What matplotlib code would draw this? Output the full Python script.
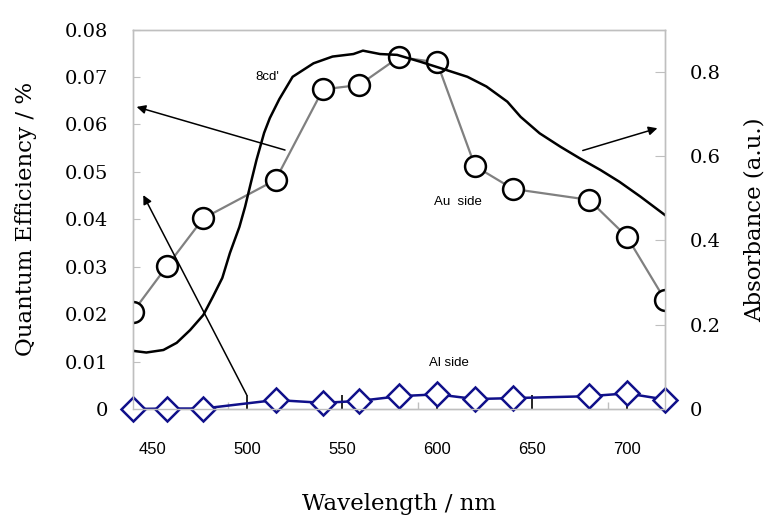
import numpy as np
import matplotlib
matplotlib.use("Agg")
import matplotlib.pyplot as plt

# Quantum efficiency, Au side (open circles, grey line)
wl_qe = [440, 458, 477, 515, 540, 559, 580, 600, 620, 640, 680, 700, 720]
qe_au = [0.0205, 0.0302, 0.0402, 0.0483, 0.0674, 0.0683, 0.0742, 0.0731,
         0.0512, 0.0464, 0.0441, 0.0363, 0.0230]
# Quantum efficiency, Al side (diamonds)
qe_al = [0.0, 0.0001, 0.0001, 0.0019, 0.0013, 0.0017, 0.0027, 0.0031,
         0.0021, 0.0023, 0.0027, 0.0033, 0.0020]

# Absorbance spectrum (right axis)
wl_abs = [440, 447, 456, 463, 470, 477, 482, 487, 491, 496, 499, 502, 505,
          509, 512, 517, 524, 535, 545, 556, 561, 570, 579, 591, 605, 616,
          626, 637, 644, 654, 665, 675, 686, 696, 707, 720]
absorb = [0.138, 0.134, 0.140, 0.157, 0.187, 0.223, 0.266, 0.311, 0.370,
          0.432, 0.480, 0.536, 0.591, 0.655, 0.690, 0.735, 0.788, 0.820,
          0.836, 0.842, 0.850, 0.842, 0.840, 0.824, 0.804, 0.788, 0.765,
          0.729, 0.693, 0.654, 0.622, 0.595, 0.567, 0.539, 0.504, 0.460]

x_ticks = [450, 500, 550, 600, 650, 700]
x_minor = [490, 590, 690]
qe_ticks = [0, 0.01, 0.02, 0.03, 0.04, 0.05, 0.06, 0.07, 0.08]
qe_labels = ["0", "0.01", "0.02", "0.03", "0.04", "0.05", "0.06", "0.07", "0.08"]
abs_ticks = [0, 0.2, 0.4, 0.6, 0.8]
abs_labels = ["0", "0.2", "0.4", "0.6", "0.8"]

serif = "DejaVu Serif"
sans = "Liberation Sans"
grey = "#bfbfbf"
navy = "#10108a"

fig = plt.figure(figsize=(7.68, 5.18), dpi=100)
ax = fig.add_axes([0.1732, 0.2104, 0.6927, 0.7325])
ax2 = ax.twinx()

# QE data
ax.plot(wl_qe, qe_au, color="#808080", lw=1.6, marker="o", ms=15,
        mfc="white", mec="black", mew=1.8, zorder=3)
ax.plot(wl_qe, qe_al, color=navy, lw=1.8, marker="D", ms=12.5,
        mfc="white", mec=navy, mew=1.8, zorder=3, clip_on=False)

# absorbance
ax2.plot(wl_abs, absorb, color="black", lw=1.8)

ax.set_xlim(440, 720)
ax.set_ylim(0, 0.08)
ax2.set_ylim(0, 0.9)

ax.set_yticks(qe_ticks)
ax.set_yticklabels(qe_labels, family=serif, fontsize=14)
ax2.set_yticks(abs_ticks)
ax2.set_yticklabels(abs_labels, family=serif, fontsize=14)
ax.set_xticks(x_ticks)
ax.set_xticklabels([str(v) for v in x_ticks], family=sans, fontsize=12)
ax.set_xticks(x_minor, minor=True)

ax.tick_params(axis="y", direction="in", length=5, color=grey, pad=18)
ax2.tick_params(axis="y", direction="in", length=7, color=grey, pad=18)
ax.tick_params(axis="x", direction="in", length=10, width=1.2,
               color="black", pad=24)
ax.tick_params(axis="x", which="minor", direction="in", length=5,
               width=1.0, color=grey)
# the 450 mark is hidden behind the markers in the original
ax.xaxis.get_major_ticks()[0].tick1line.set_visible(False)

for a in (ax, ax2):
    for s in a.spines.values():
        s.set_color(grey)
        s.set_linewidth(1.0)

ax.set_ylabel("Quantum Efficiency / %", family=serif, fontsize=16.5, labelpad=20)
ax2.set_ylabel("Absorbance (a.u.)", family=serif, fontsize=16.5, labelpad=16)
ax.set_xlabel("Wavelength / nm", family=serif, fontsize=16.5, labelpad=26)

# arrows and notes, placed in QE data coordinates
arrow = dict(arrowstyle="-|>", color="black", lw=1.1, mutation_scale=13,
             shrinkA=0, shrinkB=0)
ax2.annotate("", xy=(441.9, 0.0637), xytext=(520, 0.0546),
             xycoords=ax.transData, textcoords=ax.transData, arrowprops=arrow)
ax2.annotate("", xy=(445.4, 0.0451), xytext=(499.8, 0.0030),
             xycoords=ax.transData, textcoords=ax.transData, arrowprops=arrow)
ax2.annotate("", xy=(716, 0.0592), xytext=(676.7, 0.0545),
             xycoords=ax.transData, textcoords=ax.transData, arrowprops=arrow)

ax2.text(510.8, 0.0700, "8cd'", transform=ax.transData, family=sans,
         fontsize=9.5, ha="center", va="center")
ax2.text(610.8, 0.0437, "Au  side", transform=ax.transData, family=sans,
         fontsize=9.5, ha="center", va="center")
ax2.text(606.3, 0.0096, "Al side", transform=ax.transData, family=sans,
         fontsize=9.5, ha="center", va="center")

fig.savefig("out.png", dpi=100)
